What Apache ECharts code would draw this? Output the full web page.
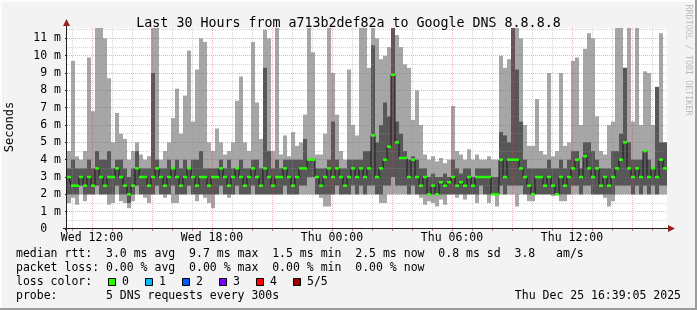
<!DOCTYPE html>
<html><head><meta charset="utf-8">
<script src="https://cdn.jsdelivr.net/npm/echarts@6/dist/echarts.min.js"></script>
<style>html,body{margin:0;padding:0;background:#f3f3f3;}#c{width:697px;height:310px;}</style>
</head><body><div id="c"></div>
<script>
// ---- time axis (hours since Wed 00:00), 12-minute columns ----
const startHour = 10.75;
const stepHours = 0.2;
// ---- smoke values (ms) ----
const hiVals = [4.5,9.7,4.2,4.0,4.5,9.9,6.8,11.6,11.6,11.0, 8.7,5.0,6.7,5.5,5.2,4.0,4.5,5.0,4.3,4.0,
  4.2,11.6,11.6,4.0,4.5,5.0,6.4,8.1,5.5,7.7, 10.3,6.2,9.2,11.0,10.8,5.0,4.5,5.8,5.0,4.3,
  4.5,5.0,7.4,8.8,5.0,4.5,10.8,7.3,5.2,11.5, 11.0,4.5,11.6,4.3,5.4,4.2,5.6,4.8,5.0,6.6,
  11.6,10.2,4.3,4.3,5.5,11.6,9.0,6.6,4.5,4.0, 9.2,6.0,5.4,11.6,11.6,9.3,11.6,11.0,9.8,10.0,
  10.5,11.6,11.2,10.5,9.5,9.3,6.3,8.0,6.0,4.3, 4.0,4.2,3.9,4.1,3.8,4.0,7.1,4.5,4.3,4.0,
  4.6,4.0,4.3,4.0,4.0,4.2,4.0,4.0,10.0,9.3, 9.8,11.6,11.6,11.0,6.0,4.8,4.8,7.5,4.5,4.3,
  9.0,4.2,4.5,9.0,4.8,5.0,9.7,9.9,6.0,10.4, 11.3,11.0,6.5,4.5,4.3,6.0,6.2,11.6,11.6,9.3,
  11.6,6.2,11.6,6.0,9.1,9.0,6.0,8.2,11.3,5.0];
const q3Vals = [3.5,4.0,3.5,3.5,3.5,4.0,3.5,4.5,4.0,4.0, 4.5,3.5,4.0,4.0,3.5,3.0,3.5,4.5,3.5,3.5,
  3.5,9.0,4.0,3.5,3.5,4.0,3.5,4.0,3.5,4.0, 3.5,4.0,4.0,4.5,3.5,3.5,3.5,3.5,4.0,3.5,
  4.0,3.5,3.5,4.0,3.5,3.5,4.0,4.0,3.5,9.3, 4.5,3.5,4.0,3.5,4.0,4.0,4.0,4.0,4.0,5.2,
  4.0,4.0,3.5,3.5,3.5,4.0,6.2,4.0,3.5,3.5, 4.0,4.0,4.0,4.0,4.5,4.5,10.6,5.0,6.0,7.3,
  6.5,11.6,6.2,5.5,4.5,4.0,4.2,4.0,3.5,3.5, 3.0,3.2,3.0,3.0,3.2,3.0,4.0,3.5,3.2,3.5,
  3.5,3.0,3.5,3.5,3.5,3.5,3.0,3.0,5.6,5.4, 5.0,11.6,9.2,6.2,4.0,3.5,3.5,3.5,3.5,3.5,
  4.0,3.5,3.5,4.0,3.5,4.0,4.5,4.5,3.5,5.0, 5.0,4.5,4.0,3.5,3.5,3.5,4.5,4.5,5.5,9.3,
  5.0,4.0,4.0,4.0,4.5,4.0,3.5,8.2,5.0,5.0];
const medVals = [3.0,2.5,2.5,3.0,2.5,3.0,2.5,3.5,3.0,2.5, 3.0,3.0,3.5,3.0,2.5,2.0,2.5,3.5,3.0,3.0,
  2.5,3.0,3.5,3.0,2.5,3.0,3.5,3.0,2.5,3.0, 3.5,3.0,2.5,3.0,3.0,2.5,3.0,3.0,3.5,3.0,
  2.5,3.0,3.5,3.0,2.5,3.0,3.5,3.0,2.5,3.5, 3.0,2.5,3.0,3.0,3.5,3.0,2.5,3.0,3.5,3.5,
  4.0,4.0,3.0,2.5,3.0,3.5,3.0,3.5,3.0,2.5, 3.0,3.5,3.0,3.5,3.0,3.5,5.4,3.0,3.5,4.0,
  4.75,8.9,5.0,4.1,4.1,3.0,4.0,3.0,2.5,3.0, 2.0,2.5,2.0,2.7,2.5,2.7,3.0,2.5,2.7,2.5,
  3.0,2.5,3.0,3.0,3.0,3.0,2.0,2.0,4.0,3.0, 4.0,4.0,4.0,3.5,3.0,2.5,2.0,3.0,3.0,2.5,
  3.0,2.5,2.0,3.0,2.5,3.0,3.5,4.0,3.0,4.2, 3.5,3.0,3.5,2.5,3.0,2.5,3.0,3.5,4.0,5.0,
  3.5,3.0,3.5,3.0,4.5,3.0,3.5,3.0,4.0,3.5];
const q1Vals = [2.0,2.0,2.0,2.5,2.0,2.0,2.0,2.5,2.0,2.0, 2.0,2.0,2.5,2.0,2.0,1.5,2.0,2.5,2.0,2.0,
  2.0,2.0,2.5,2.0,2.0,2.0,2.5,2.0,2.0,2.0, 2.5,2.0,2.0,2.0,2.0,2.0,2.0,2.0,2.5,2.0,
  2.0,2.0,2.5,2.0,2.0,2.0,2.5,2.0,2.0,2.0, 2.0,2.0,2.0,2.0,2.5,2.0,2.0,2.0,2.5,2.5,
  3.0,3.0,2.0,2.0,2.0,2.0,2.0,2.5,2.0,2.0, 2.0,2.5,2.0,2.5,2.0,2.5,2.5,2.0,2.0,2.5,
  2.5,3.0,2.5,2.5,2.5,2.0,2.5,2.0,2.0,2.0, 2.0,2.0,2.0,2.0,2.0,2.0,2.0,2.0,2.0,2.0,
  2.0,2.0,2.0,2.5,2.0,2.0,2.0,2.0,2.5,2.0, 2.5,2.5,2.5,2.5,2.0,2.0,2.0,2.0,2.0,2.0,
  2.0,2.0,2.0,2.0,2.0,2.0,2.5,2.5,2.0,2.5, 2.5,2.0,2.0,2.0,2.0,2.0,2.0,2.5,2.5,2.5,
  2.5,2.0,2.5,2.0,2.5,2.0,2.5,2.0,2.5,2.5];
const loVals = [1.5,1.8,1.4,2.0,1.6,2.0,2.0,2.0,2.0,2.0, 1.4,1.5,2.0,1.6,1.5,1.2,1.6,2.0,2.0,1.8,
  1.5,2.0,2.0,2.0,1.8,2.0,1.5,1.5,2.0,2.0, 2.0,2.0,1.6,2.0,1.8,1.5,1.2,2.0,2.0,2.0,
  1.8,2.0,2.0,2.0,2.0,2.0,2.0,2.0,2.0,2.0, 2.0,2.0,2.0,2.0,2.0,2.0,2.0,2.0,2.0,2.0,
  2.0,2.0,2.0,1.8,1.3,1.3,2.0,2.0,2.0,2.0, 2.0,2.0,2.0,2.0,2.0,2.0,2.0,2.0,1.5,1.5,
  2.0,2.0,2.0,2.0,2.0,2.0,2.0,2.0,1.8,1.4, 1.6,1.5,1.3,1.7,1.4,2.0,2.0,1.8,2.0,1.7,
  2.0,2.0,1.5,2.0,2.0,1.5,2.0,1.3,2.0,2.0, 2.0,2.0,1.3,2.0,2.0,1.6,1.6,2.0,2.0,2.0,
  2.0,1.9,2.0,1.6,1.6,2.0,2.0,2.0,2.0,2.0, 2.0,2.0,2.0,2.0,1.8,1.3,1.6,2.0,2.0,2.0,
  2.0,2.0,2.0,2.0,2.0,2.0,2.0,2.0,2.0,2.0];
// ---- ticks / labels ----
const xLabelHours = [12, 18, 24, 30, 36];
const xLabelTexts = ['Wed 12:00', 'Wed 18:00', 'Thu 00:00', 'Thu 06:00', 'Thu 12:00'];
const yLabelValues = [0,1,2,3,4,5,6,7,8,9,10,11];
const titleText = 'Last 30 Hours from a713b2def82a to Google DNS 8.8.8.8';
const statRows = [
  'median rtt:  3.0 ms avg  9.7 ms max  1.5 ms min  2.5 ms now  0.8 ms sd  3.8   am/s',
  'packet loss: 0.00 % avg  0.00 % max  0.00 % min  0.00 % now',
  'loss color:',
  'probe:       5 DNS requests every 300s'
];
const lossLabels = ['0', '1', '2', '3', '4', '5/5'];
const lossColors = ['#26ff00', '#00b8ff', '#0059ff', '#7e00ff', '#ff0000', '#a10000'];
const dateText = 'Thu Dec 25 16:39:05 2025';

// ---- build ----
const MONO = 'DejaVu Sans Mono';
const smokeData = loVals.map((v, i) => [startHour + i * stepHours, v, q1Vals[i], q3Vals[i], hiVals[i]]);
const medDash = medVals.map((v, i) => [startHour + i * stepHours, v]);
const medLine = medVals.map((v, i) => [startHour + (i + 0.5) * stepHours, v]);
const endHour = startHour + loVals.length * stepHours;

const hourTicks = [];
for (let h = Math.ceil(startHour); h < endHour; h++) hourTicks.push(h);
const gridLines = [];
hourTicks.forEach(h => gridLines.push({xAxis: h, lineStyle: {color: h % 3 === 0 ? 'rgba(235,60,60,0.42)' : 'rgba(150,150,150,0.42)', type: [1, 1], width: 1}}));
for (let v = 0.5; v < 11.6; v += 0.5) {
  gridLines.push({yAxis: v, lineStyle: {color: Number.isInteger(v) ? 'rgba(235,60,60,0.42)' : 'rgba(150,150,150,0.42)', type: [1, 1], width: 1}});
}

const graphics = [
  {type: 'rect', shape: {x: 0, y: 0, width: 697, height: 310}, style: {fill: '#f3f3f3'}, z: -10, silent: true},
  {type: 'line', shape: {x1: 0, y1: 1, x2: 697, y2: 1}, style: {stroke: '#fcfcfc', lineWidth: 2}, silent: true},
  {type: 'line', shape: {x1: 1, y1: 0, x2: 1, y2: 310}, style: {stroke: '#fcfcfc', lineWidth: 2}, silent: true},
  {type: 'line', shape: {x1: 0, y1: 309, x2: 697, y2: 309}, style: {stroke: '#9c9c9c', lineWidth: 2}, silent: true},
  {type: 'line', shape: {x1: 696, y1: 0, x2: 696, y2: 310}, style: {stroke: '#9c9c9c', lineWidth: 2}, silent: true},
  {type: 'line', shape: {x1: 66.5, y1: 232, x2: 66.5, y2: 24}, style: {stroke: '#202020', lineWidth: 1}, z: 20, silent: true},
  {type: 'line', shape: {x1: 63, y1: 228.5, x2: 670, y2: 228.5}, style: {stroke: '#202020', lineWidth: 1}, z: 20, silent: true},
  {type: 'polygon', shape: {points: [[66.5, 19], [63, 26], [70, 26]]}, style: {fill: '#9a2020'}, z: 21, silent: true},
  {type: 'polygon', shape: {points: [[675, 228.5], [668, 225], [668, 232]]}, style: {fill: '#9a2020'}, z: 21, silent: true},
  {type: 'text', x: 10, y: 127, rotation: Math.PI / 2, style: {text: 'Seconds', fontFamily: MONO, fontSize: 12, fill: '#000', align: 'center', verticalAlign: 'middle'}, silent: true},
  {type: 'text', x: 688, y: 60, rotation: -Math.PI / 2, style: {text: 'RRDTOOL / TOBI OETIKER', fontFamily: MONO, fontSize: 8.4, fill: '#bdbdbd', align: 'center', verticalAlign: 'middle'}, silent: true},
  {type: 'text', x: 681, y: 296, style: {text: dateText, fontFamily: MONO, fontSize: 11.5, fill: '#000', align: 'right', verticalAlign: 'middle'}, silent: true}
];
const rowY = [254.5, 268.3, 282, 296];
statRows.forEach((t, i) => graphics.push({type: 'text', x: 16, y: rowY[i], style: {text: t, fontFamily: MONO, fontSize: 11.5, fill: '#000', align: 'left', verticalAlign: 'middle'}, silent: true}));
lossLabels.forEach((t, k) => {
  graphics.push({type: 'rect', shape: {x: 108.5 + 37 * k, y: 278.5, width: 7, height: 7}, style: {fill: lossColors[k], stroke: '#000', lineWidth: 1}, silent: true});
  graphics.push({type: 'text', x: 122 + 37 * k, y: 282, style: {text: t, fontFamily: MONO, fontSize: 11.5, fill: '#000', align: 'left', verticalAlign: 'middle'}, silent: true});
});

const chart = echarts.init(document.getElementById('c'), null, {renderer: 'canvas', width: 697, height: 310});
chart.setOption({
  animation: false,
  backgroundColor: '#f3f3f3',
  title: {text: titleText, left: 'center', top: 11, textStyle: {fontFamily: MONO, fontSize: 13.3, fontWeight: 'normal', color: '#000', lineHeight: 16}},
  grid: {left: 67, right: 30, top: 28, bottom: 81, backgroundColor: '#ffffff', show: true, borderWidth: 0},
  xAxis: {
    type: 'value', min: startHour, max: endHour,
    axisLine: {show: false},
    splitLine: {show: false},
    axisTick: {show: true, customValues: hourTicks, length: 2, lineStyle: {color: '#c08080'}},
    axisLabel: {customValues: xLabelHours, margin: 3, fontFamily: MONO, fontSize: 11.5, color: '#000',
      formatter: v => xLabelTexts[xLabelHours.indexOf(Math.round(v))] || ''}
  },
  yAxis: {
    type: 'value', min: 0, max: 11.6,
    axisLine: {show: false},
    splitLine: {show: false},
    axisTick: {show: true, customValues: yLabelValues, length: 2, lineStyle: {color: '#202020'}},
    axisLabel: {customValues: yLabelValues, margin: 6, fontFamily: MONO, fontSize: 11.5, color: '#000',
      formatter: v => (v === 0 ? '0  ' : v + ' m')}
  },
  graphic: graphics,
  series: [
    {
      type: 'custom', name: 'smoke', data: smokeData, clip: true, z: 2,
      encode: {x: 0, y: [1, 2, 3, 4]},
      renderItem: (params, api) => {
        const t = api.value(0);
        const pLo = api.coord([t, api.value(1)]);
        const pHi = api.coord([t + stepHours, api.value(4)]);
        const yQ1 = api.coord([t, api.value(2)])[1];
        const yQ3 = api.coord([t, api.value(3)])[1];
        const x0 = pLo[0], w = pHi[0] - pLo[0];
        return {type: 'group', children: [
          {type: 'rect', shape: {x: x0, y: pHi[1], width: w, height: pLo[1] - pHi[1]}, style: {fill: '#a6a6a6'}},
          {type: 'rect', shape: {x: x0, y: yQ3, width: w, height: yQ1 - yQ3}, style: {fill: '#575757'}}
        ]};
      },
      markLine: {silent: true, symbol: ['none', 'none'], label: {show: false}, animation: false, z: 5, data: gridLines}
    },
    {
      type: 'line', name: 'median', data: medLine, step: 'middle', showSymbol: false, symbol: 'none', z: 6,
      lineStyle: {color: '#1a1a1a', width: 1}
    },
    {
      type: 'custom', name: 'loss0', data: medDash, clip: true, z: 7,
      encode: {x: 0, y: 1},
      renderItem: (params, api) => {
        const t = api.value(0);
        const p0 = api.coord([t, api.value(1)]);
        const p1 = api.coord([t + stepHours, api.value(1)]);
        return {type: 'rect', shape: {x: p0[0], y: p0[1] - 1.25, width: p1[0] - p0[0], height: 2.5}, style: {fill: lossColors[0]}};
      }
    }
  ]
});
</script>
</body></html>
